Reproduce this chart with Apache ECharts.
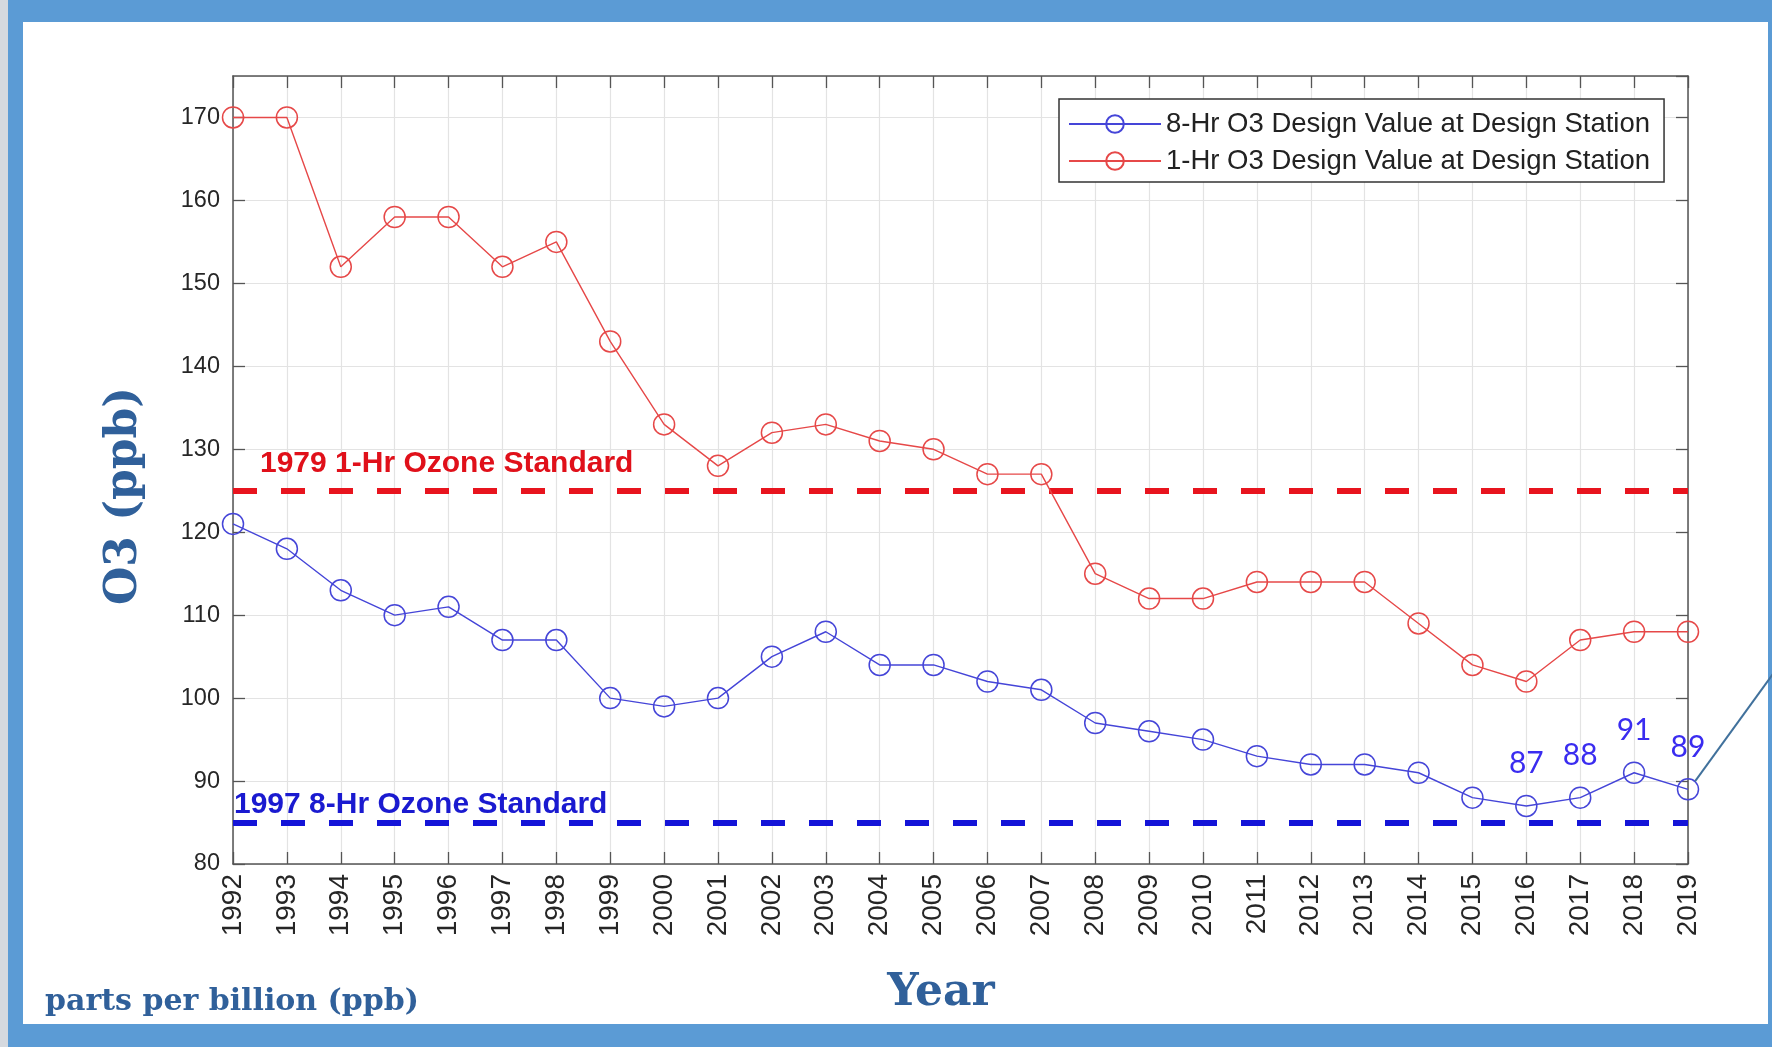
<!DOCTYPE html>
<html><head><meta charset="utf-8">
<script src="https://cdn.jsdelivr.net/npm/echarts@6/dist/echarts.min.js"></script>
<style>html,body{margin:0;padding:0;background:#5b9bd5}#c{width:1772px;height:1047px}</style>
</head><body><div id="c"></div>
<script>
// ---- data ----
const years = ['1992','1993','1994','1995','1996','1997','1998','1999','2000','2001','2002','2003','2004','2005','2006','2007','2008','2009','2010','2011','2012','2013','2014','2015','2016','2017','2018','2019'];
const eightHr = [121,118,113,110,111,107,107,100,99,100,105,108,104,104,102,101,97,96,95,93,92,92,91,88,87,88,91,89];
const oneHr = [170,170,152,158,158,152,155,143,133,128,132,133,131,130,127,127,115,112,112,114,114,114,109,104,102,107,108,108];
const labeledYears = ['2016','2017','2018','2019'];
const std1979OneHr = 125;
const std1997EightHr = 85;
const yMin = 80, yMax = 175, yStep = 10;
const seriesNames = ['8-Hr O3 Design Value at Design Station', '1-Hr O3 Design Value at Design Station'];
const stdLabels = ['1979 1-Hr Ozone Standard', '1997 8-Hr Ozone Standard'];

const BLUE = '#4545d8', RED = '#e64848';
const chart = echarts.init(document.getElementById('c'), null, {renderer: 'canvas'});

const axisLine = {show: true, lineStyle: {color: '#555', width: 1.5}};
const tick = {show: true, inside: true, length: 12, lineStyle: {color: '#555', width: 1.3}};
const split = {show: true, lineStyle: {color: '#e3e3e3', width: 1.2}};

const option = {
  animation: false,
  backgroundColor: '#5b9bd5',
  grid: {left: 233, right: 84, top: 76, bottom: 183, outerBoundsMode: 'none', containLabel: false},
  legend: {
    orient: 'vertical', left: 1059, top: 99,
    data: seriesNames,
    backgroundColor: '#fff', borderColor: '#333', borderWidth: 1.5,
    padding: [11, 14, 7, 9], itemGap: 9, itemWidth: 92, itemHeight: 22,
    textStyle: {fontFamily: 'Liberation Sans', fontSize: 27.5, color: '#222'}
  },
  xAxis: [
    {type: 'category', data: years, boundaryGap: false, axisLine: axisLine, axisTick: tick, splitLine: split,
     axisLabel: {rotate: 90, margin: 10, fontFamily: 'Liberation Sans', fontSize: 28, color: '#262626'}},
    {type: 'category', data: years, boundaryGap: false, position: 'top', axisLine: axisLine, axisTick: tick,
     axisLabel: {show: false}, splitLine: {show: false}}
  ],
  yAxis: [
    {type: 'value', min: yMin, max: yMax, interval: yStep, axisLine: axisLine, axisTick: tick, splitLine: split,
     axisLabel: {showMaxLabel: false, margin: 13, fontFamily: 'Liberation Sans', fontSize: 23.5, color: '#262626'}},
    {type: 'value', min: yMin, max: yMax, interval: yStep, position: 'right', axisLine: axisLine, axisTick: tick,
     axisLabel: {show: false}, splitLine: {show: false}}
  ],
  series: [
    {
      name: seriesNames[0], type: 'line', data: eightHr.map((v, i) => labeledYears.includes(years[i]) ? {value: v, label: {show: true}} : v),
      symbol: 'circle', symbolSize: 21, z: 5,
      lineStyle: {color: BLUE, width: 1.4}, itemStyle: {color: 'rgba(0,0,0,0)', borderColor: BLUE, borderWidth: 1.5},
      label: {show: false, position: 'top', distance: 16, color: '#3a2cf0', fontFamily: 'Lato', fontSize: 30},
      markLine: {silent: true, symbol: ['none', 'none'], label: {show: false}, z: 3,
        lineStyle: {color: '#1414d8', width: 6, type: [24, 24]}, data: [{yAxis: std1997EightHr}]}
    },
    {
      name: seriesNames[1], type: 'line', data: oneHr,
      symbol: 'circle', symbolSize: 21, z: 5,
      lineStyle: {color: RED, width: 1.4}, itemStyle: {color: 'rgba(0,0,0,0)', borderColor: RED, borderWidth: 1.5},
      markLine: {silent: true, symbol: ['none', 'none'], label: {show: false}, z: 3,
        lineStyle: {color: '#e8141e', width: 6, type: [24, 24]}, data: [{yAxis: std1979OneHr}]}
    }
  ],
  graphic: [
    {type: 'rect', z: -10, shape: {x: 23, y: 22, width: 1745, height: 1002}, style: {fill: '#fff'}},
    {type: 'rect', z: -10, shape: {x: 0, y: 0, width: 8, height: 1047}, style: {fill: '#d5d9df'}},
    {type: 'text', z: 10, style: {text: 'parts per billion (ppb)', x: 45, y: 1002, textVerticalAlign: 'middle',
      font: 'bold 30px "DejaVu Serif"', fill: '#30609a'}},
    {type: 'text', z: 10, style: {text: 'Year', x: 941, y: 994, textAlign: 'center', textVerticalAlign: 'middle',
      font: 'bold 44px "DejaVu Serif"', fill: '#30609a'}},
    {type: 'text', z: 10, x: 125, y: 496, rotation: Math.PI / 2, style: {text: 'O3 (ppb)', x: 0, y: 0, textAlign: 'center', textVerticalAlign: 'middle',
      font: 'bold 44px "DejaVu Serif"', fill: '#30609a'}}
  ]
};
chart.setOption(option);

const pRed = chart.convertToPixel({gridIndex: 0}, [0, std1979OneHr]);
const pBlue = chart.convertToPixel({gridIndex: 0}, [0, std1997EightHr]);
const pLast = chart.convertToPixel({gridIndex: 0}, [years.length - 1, eightHr[eightHr.length - 1]]);
chart.setOption({graphic: option.graphic.concat([
  {type: 'text', z: 10, style: {text: stdLabels[0], x: pRed[0] + 27, y: pRed[1] - 27, textVerticalAlign: 'middle',
    font: 'bold 30px "Liberation Sans"', fill: '#e0101a'}},
  {type: 'text', z: 10, style: {text: stdLabels[1], x: pBlue[0] + 1, y: pBlue[1] - 18, textVerticalAlign: 'middle',
    font: 'bold 30px "Liberation Sans"', fill: '#1a1ad0'}},
  {type: 'line', z: 10, shape: {x1: pLast[0] + 7, y1: pLast[1] - 8, x2: pLast[0] + 7 + 90, y2: pLast[1] - 8 - 124},
    style: {stroke: '#41719c', lineWidth: 2}}
])});
</script></body></html>
